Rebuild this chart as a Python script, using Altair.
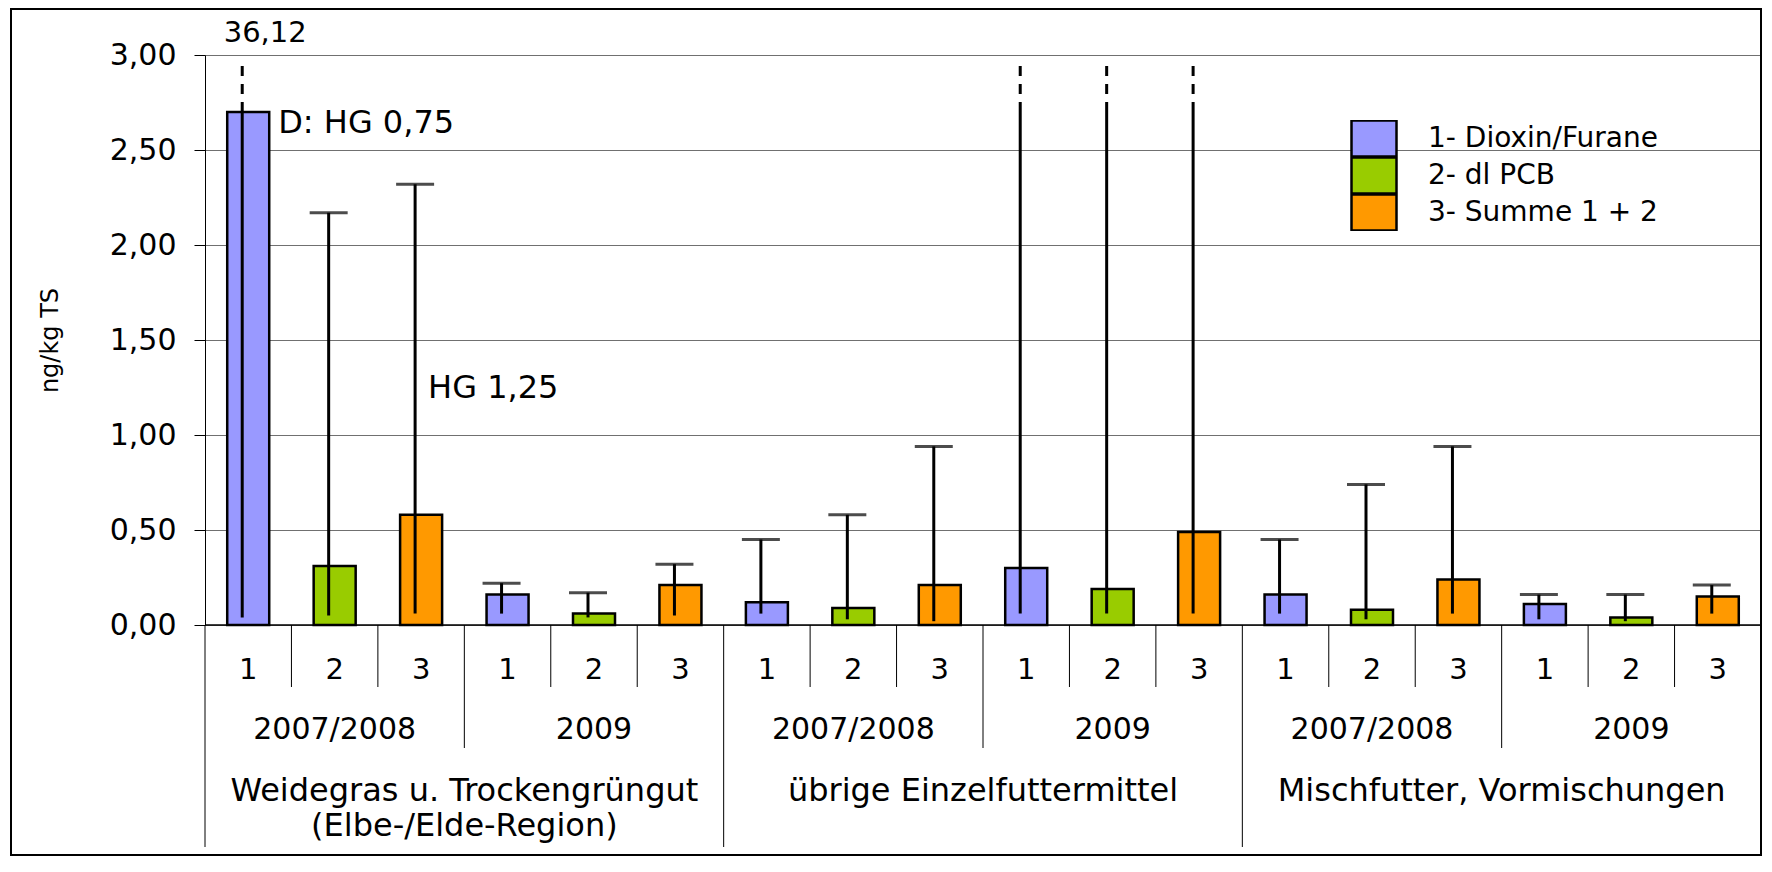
import altair as alt
import pandas as pd

# ---------------- data ----------------
categories = ["Weidegras u. Trockengrüngut\n(Elbe-/Elde-Region)",
              "übrige Einzelfuttermittel",
              "Mischfutter, Vormischungen"]
years = ["2007/2008", "2009"]
substances = ["1", "2", "3"]
legend_labels = ["1- Dioxin/Furane", "2- dl PCB", "3- Summe 1 + 2"]
colors = ["#9999FF", "#99CC00", "#FF9900"]

# bar heights (ng/kg TS), order: category > year > substance
bar_values = [2.70, 0.31, 0.58, 0.16, 0.06, 0.21,
              0.12, 0.09, 0.21, 0.30, 0.19, 0.49,
              0.16, 0.08, 0.24, 0.11, 0.04, 0.15]
min_values = [0.04, 0.05, 0.06, 0.06, 0.04, 0.05,
              0.06, 0.03, 0.02, 0.06, 0.06, 0.06,
              0.06, 0.03, 0.06, 0.03, 0.02, 0.06]
# None = maximum far beyond the axis (not labelled)
max_values = [36.12, 2.17, 2.32, 0.22, 0.17, 0.32,
              0.45, 0.58, 0.94, None, None, None,
              0.45, 0.74, 0.94, 0.16, 0.16, 0.21]

y_ticks = [0.0, 0.5, 1.0, 1.5, 2.0, 2.5, 3.0]
Y_MAX = 3.0
BREAK_LO = 2.70   # where an off-scale range turns into a dashed line
BREAK_HI = 2.96

# ---------------- table ----------------
rows = []
i = 0
for ci, cat in enumerate(categories):
    for yi, yr in enumerate(years):
        for si, sub in enumerate(substances):
            mx = max_values[i]
            off = (mx is None) or (mx > Y_MAX)
            rows.append(dict(
                slot=f"s{i:02d}", k=i, cat=cat, year=yr, sub=sub,
                Stoff=legend_labels[si], value=bar_values[i], lo=min_values[i],
                hi=(BREAK_LO if off else mx), cap=(not off),
                dlo=(BREAK_LO if off else None), dhi=(BREAK_HI if off else None),
                pos_in_cat=yi * 3 + si))
            i += 1
df = pd.DataFrame(rows)
slots = list(df["slot"])

W = 1556
H = 570
FONT = "DejaVu Sans"


def X(**kw):
    return alt.X("slot:N", sort=slots, axis=None,
                 scale=alt.Scale(paddingInner=0, paddingOuter=0), **kw)


yscale = alt.Scale(domain=[0, Y_MAX], nice=False)

base = alt.Chart(df)

frame = alt.Chart(pd.DataFrame({"a": [0]})).mark_rect(
    fillOpacity=0, stroke="black", strokeWidth=2
).encode(x=alt.value(-194), x2=alt.value(W), y=alt.value(-46), y2=alt.value(800))

bars = base.mark_bar(width=42, stroke="black", strokeWidth=2.5).encode(
    x=X(),
    y=alt.Y("value:Q", scale=yscale,
            axis=alt.Axis(values=y_ticks,
                          labelExpr="replace(format(datum.value, '.2f'), '.', ',')",
                          grid=True, gridColor="#707070", gridWidth=1,
                          tickSize=11, tickColor="black", tickWidth=1,
                          domainColor="black", domainWidth=1,
                          labelFont=FONT, labelFontSize=30, labelColor="black",
                          labelPadding=18,
                          title="ng/kg TS", titleFont=FONT, titleFontSize=24,
                          titleFontWeight="normal", titleColor="black",
                          titleX=-155, titleY=285, titleAngle=270,
                          titleBaseline="middle", titleAlign="center")),
    color=alt.Color("Stoff:N", scale=alt.Scale(domain=legend_labels, range=colors),
                    legend=alt.Legend(title=None, orient="none",
                                      legendX=1145, legendY=65,
                                      symbolType="M-1,-0.8H1V0.8H-1Z",
                                      symbolSize=2025,
                                      symbolStrokeColor="black",
                                      symbolStrokeWidth=2.5,
                                      symbolOpacity=1,
                                      labelFont=FONT, labelFontSize=28,
                                      labelColor="black", labelOffset=30,
                                      labelLimit=600, clipHeight=37,
                                      rowPadding=0, padding=0)),
)

err = base.mark_rule(color="black", strokeWidth=3, xOffset=-6).encode(
    x=X(), y=alt.Y("lo:Q", scale=yscale), y2="hi:Q")

caps = base.transform_filter("datum.cap").mark_tick(
    color="black", size=38, thickness=3, xOffset=-6).encode(
    x=X(), y=alt.Y("hi:Q", scale=yscale))

dashed = base.transform_filter("datum.dlo != null").mark_rule(
    color="black", strokeWidth=3, strokeDash=[10, 8], xOffset=-6).encode(
    x=X(), y=alt.Y("dlo:Q", scale=yscale), y2="dhi:Q")

xline = alt.Chart(pd.DataFrame({"a": [0]})).mark_rule(color="black", strokeWidth=1.5).encode(
    y=alt.datum(0, scale=yscale), x=alt.value(0), x2=alt.value(W))

sep_small = base.transform_filter("datum.k % 3 != 0").mark_rule(color="black", strokeWidth=1).encode(
    x=X(bandPosition=0), y=alt.value(H), y2=alt.value(632))
sep_year = base.transform_filter("datum.k % 3 == 0 && datum.k % 6 != 0").mark_rule(
    color="black", strokeWidth=1).encode(
    x=X(bandPosition=0), y=alt.value(H), y2=alt.value(693))
sep_cat = base.transform_filter("datum.k % 6 == 0").mark_rule(color="black", strokeWidth=1).encode(
    x=X(bandPosition=0), y=alt.value(H), y2=alt.value(792))

sub_text = base.mark_text(font=FONT, fontSize=29, color="black", baseline="middle").encode(
    x=X(), y=alt.value(615), text="sub:N")

year_text = base.transform_filter("datum.sub == '2'").mark_text(
    font=FONT, fontSize=30, color="black", baseline="middle").encode(
    x=X(), y=alt.value(675), text="year:N")

cat_text = base.transform_filter("datum.pos_in_cat == 3").mark_text(
    font=FONT, fontSize=32, color="black", baseline="top", lineBreak="\n",
    lineHeight=35).encode(
    x=X(bandPosition=0), y=alt.value(721), text="cat:N")

ann_df = pd.DataFrame({"slot": ["s00", "s00", "s02"],
                       "yv": [Y_MAX, 2.64, 1.25],
                       "txt": ["36,12", "D: HG 0,75", "HG 1,25"]})
ann_top = alt.Chart(ann_df.iloc[[0]]).mark_text(
    font=FONT, fontSize=29, color="black", baseline="middle", dx=17, dy=-22).encode(
    x=X(), y=alt.Y("yv:Q", scale=yscale), text="txt:N")
ann_d = alt.Chart(ann_df.iloc[[1]]).mark_text(
    font=FONT, fontSize=32, color="black", baseline="middle", align="left", dx=30).encode(
    x=X(), y=alt.Y("yv:Q", scale=yscale), text="txt:N")
ann_hg = alt.Chart(ann_df.iloc[[2]]).mark_text(
    font=FONT, fontSize=32, color="black", baseline="middle", align="left", dx=7).encode(
    x=X(), y=alt.Y("yv:Q", scale=yscale), text="txt:N")

chart = alt.layer(
    frame, bars, err, caps, dashed, xline, sep_small, sep_year, sep_cat,
    sub_text, year_text, cat_text, ann_top, ann_d, ann_hg
).properties(
    width=W, height=H,
    padding={"left": 197, "top": 47, "right": 1, "bottom": 231},
    autosize=alt.AutoSizeParams(type="none"),
    background="white",
).configure_view(stroke=None).configure(font=FONT)

chart.save("out.html", embed_options={"renderer": "svg", "actions": False})
